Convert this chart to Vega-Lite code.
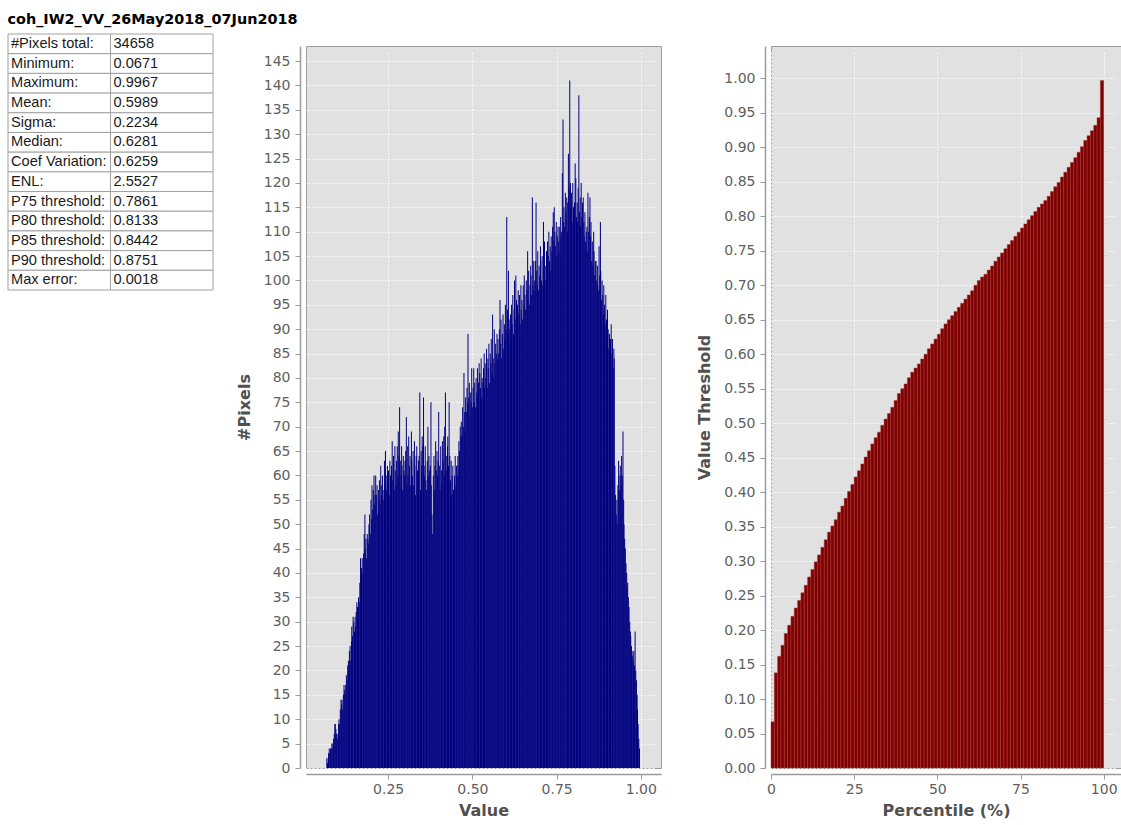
{
"$schema": "https://vega.github.io/schema/vega-lite/v6.json",
"padding": {"left": 7, "top": 12, "right": 0, "bottom": 0},
"background": "white",
"config": {
  "font": "DejaVu Sans",
  "view": {"fill": "#e1e1e1", "stroke": "#9c9c9c", "strokeWidth": 1},
  "axis": {
    "labelFont": "DejaVu Sans", "labelFontSize": 14, "labelColor": "#606060",
    "titleFont": "DejaVu Sans", "titleFontSize": 16, "titleFontWeight": "bold", "titleColor": "#505050",
    "domainColor": "#9a9a9a", "domainWidth": 1.5, "tickColor": "#9a9a9a", "tickSize": 5, "labelPadding": 3,
    "gridColor": "#ffffff", "gridDash": [2, 2], "gridOpacity": 0.9, "gridWidth": 1,
    "offset": 6, "titlePadding": 6, "labelFlush": false, "labelOverlap": false
  },
  "axisY": {"titlePadding": 11, "labelPadding": 5}
},
"datasets": {
"stats": [
{"r":0,"r1":1,"name":"#Pixels total:","val":"34658"},
{"r":1,"r1":2,"name":"Minimum:","val":"0.0671"},
{"r":2,"r1":3,"name":"Maximum:","val":"0.9967"},
{"r":3,"r1":4,"name":"Mean:","val":"0.5989"},
{"r":4,"r1":5,"name":"Sigma:","val":"0.2234"},
{"r":5,"r1":6,"name":"Median:","val":"0.6281"},
{"r":6,"r1":7,"name":"Coef Variation:","val":"0.6259"},
{"r":7,"r1":8,"name":"ENL:","val":"2.5527"},
{"r":8,"r1":9,"name":"P75 threshold:","val":"0.7861"},
{"r":9,"r1":10,"name":"P80 threshold:","val":"0.8133"},
{"r":10,"r1":11,"name":"P85 threshold:","val":"0.8442"},
{"r":11,"r1":12,"name":"P90 threshold:","val":"0.8751"},
{"r":12,"r1":13,"name":"Max error:","val":"0.0018"}
],
"pct": [
{"p":0,"p1":1,"t":0.067},{"p":1,"p1":2,"t":0.138},{"p":2,"p1":3,"t":0.162},{"p":3,"p1":4,"t":0.178},{"p":4,"p1":5,"t":0.195},
{"p":5,"p1":6,"t":0.207},{"p":6,"p1":7,"t":0.220},{"p":7,"p1":8,"t":0.232},{"p":8,"p1":9,"t":0.243},{"p":9,"p1":10,"t":0.254},
{"p":10,"p1":11,"t":0.265},{"p":11,"p1":12,"t":0.277},{"p":12,"p1":13,"t":0.288},{"p":13,"p1":14,"t":0.299},{"p":14,"p1":15,"t":0.309},
{"p":15,"p1":16,"t":0.320},{"p":16,"p1":17,"t":0.331},{"p":17,"p1":18,"t":0.342},{"p":18,"p1":19,"t":0.351},{"p":19,"p1":20,"t":0.360},
{"p":20,"p1":21,"t":0.371},{"p":21,"p1":22,"t":0.380},{"p":22,"p1":23,"t":0.391},{"p":23,"p1":24,"t":0.401},{"p":24,"p1":25,"t":0.411},
{"p":25,"p1":26,"t":0.422},{"p":26,"p1":27,"t":0.431},{"p":27,"p1":28,"t":0.441},{"p":28,"p1":29,"t":0.451},{"p":29,"p1":30,"t":0.460},
{"p":30,"p1":31,"t":0.470},{"p":31,"p1":32,"t":0.479},{"p":32,"p1":33,"t":0.487},{"p":33,"p1":34,"t":0.497},{"p":34,"p1":35,"t":0.506},
{"p":35,"p1":36,"t":0.514},{"p":36,"p1":37,"t":0.523},{"p":37,"p1":38,"t":0.533},{"p":38,"p1":39,"t":0.543},{"p":39,"p1":40,"t":0.550},
{"p":40,"p1":41,"t":0.557},{"p":41,"p1":42,"t":0.566},{"p":42,"p1":43,"t":0.574},{"p":43,"p1":44,"t":0.580},{"p":44,"p1":45,"t":0.586},
{"p":45,"p1":46,"t":0.593},{"p":46,"p1":47,"t":0.600},{"p":47,"p1":48,"t":0.608},{"p":48,"p1":49,"t":0.615},{"p":49,"p1":50,"t":0.622},
{"p":50,"p1":51,"t":0.629},{"p":51,"p1":52,"t":0.637},{"p":52,"p1":53,"t":0.644},{"p":53,"p1":54,"t":0.650},{"p":54,"p1":55,"t":0.656},
{"p":55,"p1":56,"t":0.662},{"p":56,"p1":57,"t":0.668},{"p":57,"p1":58,"t":0.674},{"p":58,"p1":59,"t":0.680},{"p":59,"p1":60,"t":0.686},
{"p":60,"p1":61,"t":0.692},{"p":61,"p1":62,"t":0.700},{"p":62,"p1":63,"t":0.707},{"p":63,"p1":64,"t":0.712},{"p":64,"p1":65,"t":0.716},
{"p":65,"p1":66,"t":0.722},{"p":66,"p1":67,"t":0.728},{"p":67,"p1":68,"t":0.735},{"p":68,"p1":69,"t":0.741},{"p":69,"p1":70,"t":0.747},
{"p":70,"p1":71,"t":0.753},{"p":71,"p1":72,"t":0.759},{"p":72,"p1":73,"t":0.765},{"p":73,"p1":74,"t":0.771},{"p":74,"p1":75,"t":0.777},
{"p":75,"p1":76,"t":0.783},{"p":76,"p1":77,"t":0.789},{"p":77,"p1":78,"t":0.795},{"p":78,"p1":79,"t":0.801},{"p":79,"p1":80,"t":0.807},
{"p":80,"p1":81,"t":0.813},{"p":81,"p1":82,"t":0.818},{"p":82,"p1":83,"t":0.823},{"p":83,"p1":84,"t":0.829},{"p":84,"p1":85,"t":0.836},
{"p":85,"p1":86,"t":0.843},{"p":86,"p1":87,"t":0.849},{"p":87,"p1":88,"t":0.857},{"p":88,"p1":89,"t":0.864},{"p":89,"p1":90,"t":0.871},
{"p":90,"p1":91,"t":0.878},{"p":91,"p1":92,"t":0.885},{"p":92,"p1":93,"t":0.893},{"p":93,"p1":94,"t":0.901},{"p":94,"p1":95,"t":0.910},
{"p":95,"p1":96,"t":0.917},{"p":96,"p1":97,"t":0.924},{"p":97,"p1":98,"t":0.932},{"p":98,"p1":99,"t":0.943},{"p":99,"p1":100,"t":0.997}
],
"hist": [
{"v":0.068,"c":2},{"v":0.070,"c":1},{"v":0.072,"c":2},{"v":0.073,"c":3},{"v":0.075,"c":4},{"v":0.077,"c":3},{"v":0.079,"c":4},{"v":0.081,"c":4},{"v":0.083,"c":5},{"v":0.084,"c":4},
{"v":0.086,"c":5},{"v":0.088,"c":6},{"v":0.090,"c":7},{"v":0.092,"c":9},{"v":0.093,"c":9},{"v":0.095,"c":8},{"v":0.097,"c":7},{"v":0.099,"c":6},{"v":0.101,"c":7},{"v":0.103,"c":9},
{"v":0.104,"c":10},{"v":0.106,"c":9},{"v":0.108,"c":12},{"v":0.110,"c":14},{"v":0.112,"c":13},{"v":0.113,"c":14},{"v":0.115,"c":12},{"v":0.117,"c":15},{"v":0.119,"c":17},{"v":0.121,"c":16},
{"v":0.122,"c":15},{"v":0.124,"c":17},{"v":0.126,"c":19},{"v":0.128,"c":18},{"v":0.130,"c":21},{"v":0.132,"c":22},{"v":0.133,"c":20},{"v":0.135,"c":24},{"v":0.137,"c":25},{"v":0.139,"c":22},
{"v":0.141,"c":26},{"v":0.142,"c":29},{"v":0.144,"c":27},{"v":0.146,"c":31},{"v":0.148,"c":30},{"v":0.150,"c":28},{"v":0.152,"c":31},{"v":0.153,"c":29},{"v":0.155,"c":32},{"v":0.157,"c":34},
{"v":0.159,"c":33},{"v":0.161,"c":31},{"v":0.162,"c":35},{"v":0.164,"c":34},{"v":0.166,"c":38},{"v":0.168,"c":43},{"v":0.170,"c":39},{"v":0.171,"c":41},{"v":0.173,"c":43},{"v":0.175,"c":40},
{"v":0.177,"c":44},{"v":0.179,"c":48},{"v":0.181,"c":52},{"v":0.182,"c":45},{"v":0.184,"c":47},{"v":0.186,"c":43},{"v":0.188,"c":48},{"v":0.190,"c":47},{"v":0.191,"c":46},{"v":0.193,"c":50},
{"v":0.195,"c":52},{"v":0.197,"c":48},{"v":0.199,"c":55},{"v":0.201,"c":51},{"v":0.202,"c":58},{"v":0.204,"c":53},{"v":0.206,"c":57},{"v":0.208,"c":60},{"v":0.210,"c":54},{"v":0.211,"c":56},
{"v":0.213,"c":60},{"v":0.215,"c":56},{"v":0.217,"c":58},{"v":0.219,"c":52},{"v":0.221,"c":57},{"v":0.222,"c":55},{"v":0.224,"c":59},{"v":0.226,"c":54},{"v":0.228,"c":62},{"v":0.230,"c":56},
{"v":0.231,"c":58},{"v":0.233,"c":60},{"v":0.235,"c":57},{"v":0.237,"c":55},{"v":0.239,"c":63},{"v":0.240,"c":58},{"v":0.242,"c":65},{"v":0.244,"c":60},{"v":0.246,"c":57},{"v":0.248,"c":62},
{"v":0.250,"c":58},{"v":0.251,"c":61},{"v":0.253,"c":56},{"v":0.255,"c":63},{"v":0.257,"c":60},{"v":0.259,"c":58},{"v":0.260,"c":62},{"v":0.262,"c":67},{"v":0.264,"c":59},{"v":0.266,"c":64},
{"v":0.268,"c":57},{"v":0.270,"c":66},{"v":0.271,"c":61},{"v":0.273,"c":58},{"v":0.275,"c":63},{"v":0.277,"c":66},{"v":0.279,"c":60},{"v":0.280,"c":69},{"v":0.282,"c":64},{"v":0.284,"c":74},
{"v":0.286,"c":63},{"v":0.288,"c":60},{"v":0.290,"c":66},{"v":0.291,"c":62},{"v":0.293,"c":57},{"v":0.295,"c":64},{"v":0.297,"c":61},{"v":0.299,"c":60},{"v":0.300,"c":63},{"v":0.302,"c":65},
{"v":0.304,"c":72},{"v":0.306,"c":58},{"v":0.308,"c":66},{"v":0.309,"c":60},{"v":0.311,"c":68},{"v":0.313,"c":62},{"v":0.315,"c":64},{"v":0.317,"c":58},{"v":0.319,"c":69},{"v":0.320,"c":63},
{"v":0.322,"c":60},{"v":0.324,"c":65},{"v":0.326,"c":58},{"v":0.328,"c":67},{"v":0.329,"c":62},{"v":0.331,"c":56},{"v":0.333,"c":64},{"v":0.335,"c":66},{"v":0.337,"c":61},{"v":0.339,"c":58},
{"v":0.340,"c":63},{"v":0.342,"c":64},{"v":0.344,"c":77},{"v":0.346,"c":57},{"v":0.348,"c":65},{"v":0.349,"c":62},{"v":0.351,"c":68},{"v":0.353,"c":66},{"v":0.355,"c":76},{"v":0.357,"c":60},
{"v":0.359,"c":62},{"v":0.360,"c":66},{"v":0.362,"c":59},{"v":0.364,"c":57},{"v":0.366,"c":63},{"v":0.368,"c":70},{"v":0.369,"c":60},{"v":0.371,"c":64},{"v":0.373,"c":61},{"v":0.375,"c":62},
{"v":0.377,"c":75},{"v":0.378,"c":58},{"v":0.380,"c":52},{"v":0.382,"c":48},{"v":0.384,"c":60},{"v":0.386,"c":64},{"v":0.388,"c":57},{"v":0.389,"c":62},{"v":0.391,"c":67},{"v":0.393,"c":61},
{"v":0.395,"c":65},{"v":0.397,"c":60},{"v":0.398,"c":63},{"v":0.400,"c":73},{"v":0.402,"c":62},{"v":0.404,"c":57},{"v":0.406,"c":66},{"v":0.408,"c":61},{"v":0.409,"c":58},{"v":0.411,"c":67},
{"v":0.413,"c":63},{"v":0.415,"c":68},{"v":0.417,"c":60},{"v":0.418,"c":70},{"v":0.420,"c":77},{"v":0.422,"c":61},{"v":0.424,"c":64},{"v":0.426,"c":66},{"v":0.427,"c":68},{"v":0.429,"c":62},
{"v":0.431,"c":75},{"v":0.433,"c":64},{"v":0.435,"c":59},{"v":0.437,"c":63},{"v":0.438,"c":56},{"v":0.440,"c":60},{"v":0.442,"c":62},{"v":0.444,"c":57},{"v":0.446,"c":55},{"v":0.447,"c":60},
{"v":0.449,"c":64},{"v":0.451,"c":58},{"v":0.453,"c":62},{"v":0.455,"c":60},{"v":0.457,"c":64},{"v":0.458,"c":62},{"v":0.460,"c":67},{"v":0.462,"c":65},{"v":0.464,"c":70},{"v":0.466,"c":68},
{"v":0.467,"c":71},{"v":0.469,"c":68},{"v":0.471,"c":74},{"v":0.473,"c":70},{"v":0.475,"c":81},{"v":0.477,"c":73},{"v":0.478,"c":69},{"v":0.480,"c":76},{"v":0.482,"c":73},{"v":0.484,"c":78},
{"v":0.486,"c":75},{"v":0.487,"c":89},{"v":0.489,"c":76},{"v":0.491,"c":79},{"v":0.493,"c":72},{"v":0.495,"c":77},{"v":0.496,"c":75},{"v":0.498,"c":82},{"v":0.500,"c":74},{"v":0.502,"c":78},
{"v":0.504,"c":82},{"v":0.506,"c":75},{"v":0.507,"c":79},{"v":0.509,"c":74},{"v":0.511,"c":80},{"v":0.513,"c":77},{"v":0.515,"c":82},{"v":0.516,"c":76},{"v":0.518,"c":79},{"v":0.520,"c":83},
{"v":0.522,"c":81},{"v":0.524,"c":78},{"v":0.526,"c":84},{"v":0.527,"c":76},{"v":0.529,"c":80},{"v":0.531,"c":79},{"v":0.533,"c":82},{"v":0.535,"c":85},{"v":0.536,"c":78},{"v":0.538,"c":83},
{"v":0.540,"c":80},{"v":0.542,"c":86},{"v":0.544,"c":78},{"v":0.546,"c":84},{"v":0.547,"c":82},{"v":0.549,"c":87},{"v":0.551,"c":79},{"v":0.553,"c":85},{"v":0.555,"c":83},{"v":0.556,"c":88},
{"v":0.558,"c":81},{"v":0.560,"c":93},{"v":0.562,"c":84},{"v":0.564,"c":80},{"v":0.565,"c":90},{"v":0.567,"c":83},{"v":0.569,"c":87},{"v":0.571,"c":85},{"v":0.573,"c":89},{"v":0.575,"c":84},
{"v":0.576,"c":88},{"v":0.578,"c":85},{"v":0.580,"c":90},{"v":0.582,"c":96},{"v":0.584,"c":87},{"v":0.585,"c":92},{"v":0.587,"c":84},{"v":0.589,"c":89},{"v":0.591,"c":93},{"v":0.593,"c":86},
{"v":0.595,"c":91},{"v":0.596,"c":88},{"v":0.598,"c":95},{"v":0.600,"c":90},{"v":0.602,"c":113},{"v":0.604,"c":94},{"v":0.605,"c":89},{"v":0.607,"c":102},{"v":0.609,"c":92},{"v":0.611,"c":90},
{"v":0.613,"c":93},{"v":0.615,"c":88},{"v":0.616,"c":95},{"v":0.618,"c":91},{"v":0.620,"c":97},{"v":0.622,"c":89},{"v":0.624,"c":94},{"v":0.625,"c":100},{"v":0.627,"c":92},{"v":0.629,"c":101},
{"v":0.631,"c":96},{"v":0.633,"c":90},{"v":0.634,"c":95},{"v":0.636,"c":98},{"v":0.638,"c":93},{"v":0.640,"c":97},{"v":0.642,"c":91},{"v":0.644,"c":99},{"v":0.645,"c":94},{"v":0.647,"c":96},
{"v":0.649,"c":92},{"v":0.651,"c":99},{"v":0.653,"c":95},{"v":0.654,"c":101},{"v":0.656,"c":97},{"v":0.658,"c":94},{"v":0.660,"c":100},{"v":0.662,"c":98},{"v":0.664,"c":106},{"v":0.665,"c":96},
{"v":0.667,"c":102},{"v":0.669,"c":95},{"v":0.671,"c":99},{"v":0.673,"c":103},{"v":0.674,"c":101},{"v":0.676,"c":97},{"v":0.678,"c":117},{"v":0.680,"c":99},{"v":0.682,"c":104},{"v":0.683,"c":98},
{"v":0.685,"c":100},{"v":0.687,"c":104},{"v":0.689,"c":116},{"v":0.691,"c":102},{"v":0.693,"c":99},{"v":0.694,"c":106},{"v":0.696,"c":98},{"v":0.698,"c":103},{"v":0.700,"c":101},{"v":0.702,"c":107},
{"v":0.703,"c":104},{"v":0.705,"c":100},{"v":0.707,"c":105},{"v":0.709,"c":99},{"v":0.711,"c":112},{"v":0.713,"c":102},{"v":0.714,"c":108},{"v":0.716,"c":103},{"v":0.718,"c":100},{"v":0.720,"c":106},
{"v":0.722,"c":103},{"v":0.723,"c":108},{"v":0.725,"c":105},{"v":0.727,"c":110},{"v":0.729,"c":104},{"v":0.731,"c":107},{"v":0.733,"c":102},{"v":0.734,"c":109},{"v":0.736,"c":106},{"v":0.738,"c":111},
{"v":0.740,"c":114},{"v":0.742,"c":108},{"v":0.743,"c":115},{"v":0.745,"c":110},{"v":0.747,"c":107},{"v":0.749,"c":112},{"v":0.751,"c":105},{"v":0.752,"c":109},{"v":0.754,"c":111},{"v":0.756,"c":108},
{"v":0.758,"c":111},{"v":0.760,"c":106},{"v":0.762,"c":113},{"v":0.763,"c":109},{"v":0.765,"c":110},{"v":0.767,"c":122},{"v":0.769,"c":133},{"v":0.771,"c":112},{"v":0.772,"c":115},{"v":0.774,"c":111},
{"v":0.776,"c":118},{"v":0.778,"c":114},{"v":0.780,"c":117},{"v":0.782,"c":110},{"v":0.783,"c":116},{"v":0.785,"c":126},{"v":0.787,"c":119},{"v":0.789,"c":141},{"v":0.791,"c":120},{"v":0.792,"c":115},
{"v":0.794,"c":118},{"v":0.796,"c":112},{"v":0.798,"c":120},{"v":0.800,"c":115},{"v":0.802,"c":113},{"v":0.803,"c":116},{"v":0.805,"c":124},{"v":0.807,"c":121},{"v":0.809,"c":113},{"v":0.811,"c":116},
{"v":0.812,"c":112},{"v":0.814,"c":119},{"v":0.816,"c":138},{"v":0.818,"c":114},{"v":0.820,"c":117},{"v":0.821,"c":111},{"v":0.823,"c":120},{"v":0.825,"c":113},{"v":0.827,"c":116},{"v":0.829,"c":117},
{"v":0.831,"c":112},{"v":0.832,"c":109},{"v":0.834,"c":114},{"v":0.836,"c":108},{"v":0.838,"c":110},{"v":0.840,"c":111},{"v":0.841,"c":106},{"v":0.843,"c":118},{"v":0.845,"c":110},{"v":0.847,"c":113},
{"v":0.849,"c":117},{"v":0.851,"c":109},{"v":0.852,"c":112},{"v":0.854,"c":104},{"v":0.856,"c":108},{"v":0.858,"c":103},{"v":0.860,"c":110},{"v":0.861,"c":106},{"v":0.863,"c":101},{"v":0.865,"c":104},
{"v":0.867,"c":104},{"v":0.869,"c":100},{"v":0.871,"c":103},{"v":0.872,"c":99},{"v":0.874,"c":98},{"v":0.876,"c":107},{"v":0.878,"c":101},{"v":0.880,"c":112},{"v":0.881,"c":102},{"v":0.883,"c":96},
{"v":0.885,"c":100},{"v":0.887,"c":97},{"v":0.889,"c":93},{"v":0.890,"c":99},{"v":0.892,"c":95},{"v":0.894,"c":91},{"v":0.896,"c":97},{"v":0.898,"c":92},{"v":0.900,"c":88},{"v":0.901,"c":94},
{"v":0.903,"c":90},{"v":0.905,"c":86},{"v":0.907,"c":89},{"v":0.909,"c":84},{"v":0.910,"c":88},{"v":0.912,"c":91},{"v":0.914,"c":85},{"v":0.916,"c":88},{"v":0.918,"c":82},{"v":0.920,"c":86},
{"v":0.921,"c":84},{"v":0.923,"c":62},{"v":0.925,"c":56},{"v":0.927,"c":52},{"v":0.929,"c":55},{"v":0.930,"c":50},{"v":0.932,"c":58},{"v":0.934,"c":63},{"v":0.936,"c":57},{"v":0.938,"c":60},
{"v":0.939,"c":62},{"v":0.941,"c":58},{"v":0.943,"c":64},{"v":0.945,"c":60},{"v":0.947,"c":69},{"v":0.949,"c":55},{"v":0.950,"c":50},{"v":0.952,"c":47},{"v":0.954,"c":45},{"v":0.956,"c":42},
{"v":0.958,"c":40},{"v":0.959,"c":37},{"v":0.961,"c":38},{"v":0.963,"c":35},{"v":0.965,"c":33},{"v":0.967,"c":30},{"v":0.969,"c":28},{"v":0.970,"c":27},{"v":0.972,"c":25},{"v":0.974,"c":24},
{"v":0.976,"c":23},{"v":0.978,"c":22},{"v":0.979,"c":24},{"v":0.981,"c":21},{"v":0.983,"c":28},{"v":0.985,"c":20},{"v":0.987,"c":18},{"v":0.989,"c":15},{"v":0.990,"c":12},{"v":0.992,"c":9},
{"v":0.994,"c":6},{"v":0.996,"c":4}
]
},
"hconcat": [
  {
    "width": 205, "height": 244,
    "view": {"fill": null, "stroke": null},
    "title": {"text": "coh_IW2_VV_26May2018_07Jun2018", "anchor": "start", "font": "DejaVu Sans", "fontSize": 14.4, "fontWeight": "bold", "color": "#000000", "offset": 6},
    "data": {"name": "stats"},
    "transform": [{"fold": ["name", "val"], "as": ["col", "txt"]}],
    "layer": [
      {
        "mark": {"type": "rect", "fill": "#ffffff", "stroke": "#a0a0a0", "strokeWidth": 1},
        "encoding": {
          "x": {"field": "col", "type": "nominal", "scale": {"domain": ["name", "val"], "paddingInner": 0, "paddingOuter": 0}, "axis": null},
          "y": {"field": "r", "type": "quantitative", "scale": {"domain": [0.609, 13], "reverse": true, "nice": false, "zero": false}, "axis": null},
          "y2": {"field": "r1"}
        }
      },
      {
        "mark": {"type": "text", "align": "left", "baseline": "middle", "dx": 3, "dy": 10, "font": "Liberation Sans", "fontSize": 14.6, "color": "#1a1a1a"},
        "encoding": {
          "x": {"field": "col", "type": "nominal", "bandPosition": 0},
          "y": {"field": "r", "type": "quantitative"},
          "text": {"field": "txt"}
        }
      }
    ]
  },
  {
    "hconcat": [
      {
        "width": 355, "height": 722,
        "data": {"name": "hist"},
        "mark": {"type": "bar", "color": "#000080", "size": 1},
        "encoding": {
          "x": {"field": "v", "type": "quantitative", "scale": {"domain": [0.021, 1.045], "nice": false, "zero": false},
                "axis": {"values": [0.25, 0.5, 0.75, 1], "format": ".2f", "title": "Value"}},
          "y": {"field": "c", "type": "quantitative", "scale": {"domain": [0, 148.1], "nice": false},
                "axis": {"values": [0,5,10,15,20,25,30,35,40,45,50,55,60,65,70,75,80,85,90,95,100,105,110,115,120,125,130,135,140,145], "format": "d", "title": "#Pixels"}}
        }
      },
      {
        "width": 350, "height": 722,
        "data": {"name": "pct"},
        "mark": {"type": "rect", "fill": "#800000", "stroke": "#a33a3a", "strokeWidth": 0.5},
        "encoding": {
          "x": {"field": "p", "type": "quantitative", "scale": {"domain": [0, 105.2], "nice": false, "zero": false},
                "axis": {"values": [0, 25, 50, 75, 100], "format": "d", "title": "Percentile (%)"}},
          "x2": {"field": "p1"},
          "y": {"field": "t", "type": "quantitative", "scale": {"domain": [0, 1.047], "nice": false},
                "axis": {"values": [0,0.05,0.1,0.15,0.2,0.25,0.3,0.35,0.4,0.45,0.5,0.55,0.6,0.65,0.7,0.75,0.8,0.85,0.9,0.95,1], "format": ".2f", "title": "Value Threshold"}},
          "y2": {"datum": 0}
        }
      }
    ],
    "spacing": 110,
    "bounds": "flush"
  }
],
"spacing": 93,
"bounds": "flush"
}
